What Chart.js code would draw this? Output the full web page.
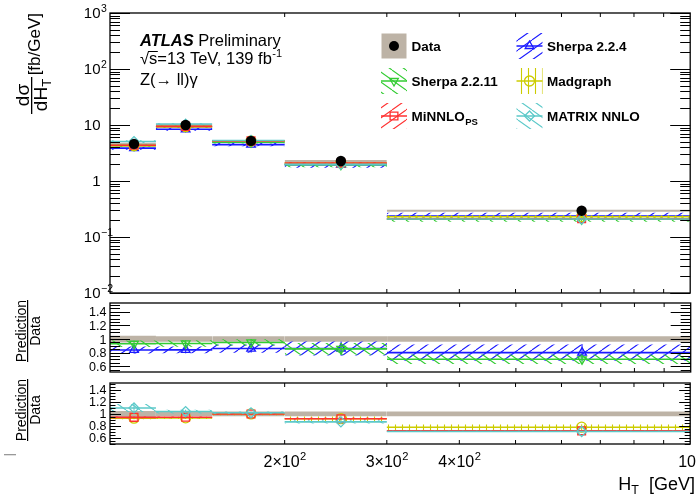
<!DOCTYPE html>
<html>
<head>
<meta charset="utf-8">
<script src="https://cdn.jsdelivr.net/npm/chart.js@4.4.1/dist/chart.umd.min.js"></script>
<style>
  html, body { margin: 0; padding: 0; background: #fff; }
  #wrap { position: relative; width: 697px; height: 495px; overflow: hidden; }
  #wrap canvas { position: absolute; left: 0; top: 0; }
</style>
</head>
<body>
<div id="wrap">
  <canvas id="main" width="697" height="495"></canvas>
  <canvas id="ratio1" width="697" height="495"></canvas>
  <canvas id="ratio2" width="697" height="495"></canvas>
</div>
<script>
// H_T binning [GeV]
const binLow  = [100, 120, 150, 200, 300];
const binHigh = [120, 150, 200, 300, 1000];
const binMid  = [110, 135, 175, 250, 650];

// measured dsigma/dH_T [fb/GeV] and its relative uncertainty
const dataXsec = [4.6, 10.0, 5.2, 2.28, 0.295];
const dataUnc  = [0.05, 0.04, 0.04, 0.04, 0.04];

// predictions [fb/GeV] with relative uncertainties
const sherpa224     = [3.86, 8.40, 4.47, 1.96, 0.236];
const sherpa224Unc  = [0.06, 0.06, 0.07, 0.12, 0.15];
const sherpa2211    = [4.28, 9.35, 4.94, 1.95, 0.207];
const sherpa2211Unc = [0.05, 0.05, 0.05, 0.10, 0.10];
const madgraph      = [4.28, 9.35, 5.20, 2.10, 0.230];
const madgraphUnc   = [0.02, 0.02, 0.02, 0.04, 0.06];
const minnlo        = [4.34, 9.44, 5.20, 2.10, 0.212];
const minnloUnc     = [0.015, 0.015, 0.015, 0.02, 0.02];
const matrixNNLO    = [5.06, 10.4, 5.30, 1.98, 0.209];
const matrixUnc     = [0.06, 0.03, 0.02, 0.03, 0.015];

// tick labels
const yMainTickVals = [1000, 100, 10, 1, 0.1, 0.01];
const yMainTickBase = ['10', '10', '10', '1', '10', '10'];
const yMainTickExp  = ['3', '2', '', '', '\u22121', '\u22122'];
const ratioTickVals = [1.4, 1.2, 1, 0.8, 0.6];
const ratioTickText = ['1.4', '1.2', '1', '0.8', '0.6'];
const xTickVals = [200, 300, 400, 1000];
const xTickBase = ['2\u00d710', '3\u00d710', '4\u00d710', '10'];
const xTickExp  = ['2', '2', '2', '3'];

const FONT = "'Liberation Sans', Arial, Helvetica, sans-serif";
const W = 697, H = 495;
const dataBand = '#bdb3a6';

const series = {
  s224:   { name: 'Sherpa 2.2.4',  vals: sherpa224,  unc: sherpa224Unc,  color: '#1a1aff', hatch: 'fwd',  marker: 'triangle', rot: 0 },
  s2211:  { name: 'Sherpa 2.2.11', vals: sherpa2211, unc: sherpa2211Unc, color: '#33cc33', hatch: 'back', marker: 'triangle', rot: 180 },
  mg:     { name: 'Madgraph',      vals: madgraph,   unc: madgraphUnc,   color: '#cccc00', hatch: 'vert', marker: 'circle',   rot: 0 },
  minnlo: { name: 'MiNNLO',        vals: minnlo,     unc: minnloUnc,     color: '#ff3030', hatch: 'fwd',  marker: 'rect',     rot: 0 },
  matrix: { name: 'MATRIX NNLO',   vals: matrixNNLO, unc: matrixUnc,     color: '#5cc9c9', hatch: 'back', marker: 'rectRot',  rot: 0 }
};

function hatchPattern(ctx, color, kind) {
  const c = document.createElement('canvas');
  const w = kind === 'vert' ? 7 : 14, h = kind === 'vert' ? 7 : 10;
  c.width = w; c.height = h;
  const g = c.getContext('2d');
  g.strokeStyle = color;
  g.lineWidth = 1.1;
  g.beginPath();
  if (kind === 'vert') {
    g.moveTo(3.5, 0); g.lineTo(3.5, h);
  } else {
    for (const o of [-w, 0, w]) {
      if (kind === 'fwd') { g.moveTo(o, h); g.lineTo(o + w, 0); }
      else { g.moveTo(o, 0); g.lineTo(o + w, h); }
    }
  }
  g.stroke();
  return ctx.createPattern(c, 'repeat');
}

const none = 'rgba(0,0,0,0)';

function pushBand(sets, vals, unc, ref, fill) {
  vals.forEach((val, i) => {
    const v = ref ? val / ref[i] : val;
    const up = v * (1 + unc[i]), dn = v * (1 - unc[i]);
    sets.push({ data: [{ x: binLow[i], y: up }, { x: binHigh[i], y: up }],
      fill: '+1', backgroundColor: fill, borderColor: none, borderWidth: 0, pointRadius: 0 });
    sets.push({ data: [{ x: binLow[i], y: dn }, { x: binHigh[i], y: dn }],
      fill: false, borderColor: none, borderWidth: 0, pointRadius: 0 });
  });
}

function pushCurve(sets, s, ref) {
  s.vals.forEach((val, i) => {
    const v = ref ? val / ref[i] : val;
    // central value across the bin
    sets.push({ data: [{ x: binLow[i], y: v }, { x: binHigh[i], y: v }],
      fill: false, borderColor: s.color, borderWidth: 1.6, pointRadius: 0 });
    // vertical error bar at the bin centre
    sets.push({ data: [{ x: binMid[i], y: v * (1 - s.unc[i]) }, { x: binMid[i], y: v * (1 + s.unc[i]) }],
      fill: false, borderColor: s.color, borderWidth: 1, pointRadius: 0 });
  });
  sets.push({ data: s.vals.map((val, i) => ({ x: binMid[i], y: ref ? val / ref[i] : val })),
    showLine: false, pointStyle: s.marker, pointRotation: s.rot,
    pointRadius: s.marker === 'rect' ? 5.5 : 5, pointBorderColor: s.color,
    pointBackgroundColor: none, pointBorderWidth: 1.3 });
}

function buildSets(ctx, keys, ratio) {
  const sets = [];
  const ref = ratio ? dataXsec : null;
  pushBand(sets, dataXsec, dataUnc, ref, dataBand);
  keys.forEach(k => {
    const s = series[k];
    pushBand(sets, s.vals, s.unc, ref, hatchPattern(ctx, s.color, s.hatch));
    pushCurve(sets, s, ref);
  });
  if (!ratio) {
    sets.push({ data: dataXsec.map((v, i) => ({ x: binMid[i], y: v })),
      showLine: false, pointStyle: 'circle', pointRadius: 5.2,
      pointBackgroundColor: '#000', pointBorderColor: '#000', pointBorderWidth: 0 });
  }
  // first pushed is drawn first
  sets.forEach((d, i) => { d.order = sets.length - i; d.tension = 0; });
  return sets;
}

function drawFrame(chart, yTicks) {
  const { ctx, chartArea: a, scales } = chart;
  ctx.save();
  ctx.strokeStyle = '#000';
  ctx.lineWidth = 1;
  ctx.beginPath();
  for (let v = 200; v < 1000; v += 100) {
    const px = scales.x.getPixelForValue(v);
    ctx.moveTo(px, a.bottom); ctx.lineTo(px, a.bottom - 4);
    ctx.moveTo(px, a.top); ctx.lineTo(px, a.top + 4);
  }
  yTicks.forEach(t => {
    const py = Math.round(scales.y.getPixelForValue(t.v)) + 0.5;
    ctx.moveTo(a.left, py); ctx.lineTo(a.left + t.len, py);
    ctx.moveTo(a.right, py); ctx.lineTo(a.right - t.len, py);
  });
  ctx.stroke();
  ctx.lineWidth = 1.3;
  ctx.strokeRect(a.left, a.top, a.right - a.left, a.bottom - a.top);
  ctx.restore();
}

function logTicks() {
  const t = [];
  for (let e = -2; e <= 3; e++) {
    t.push({ v: Math.pow(10, e), len: 20 });
    if (e < 3) for (let m = 2; m <= 9; m++) t.push({ v: m * Math.pow(10, e), len: 10 });
  }
  return t;
}

function ratioTicks(lo, hi, major) {
  const t = [];
  for (let k = 10; k <= 31; k++) {
    const v = k * 0.05;
    if (v < lo || v > hi) continue;
    t.push({ v, len: k % 4 === 0 ? major : major / 2 });
  }
  return t;
}

// text with a raised exponent; align 'base' puts the base's right edge at x
function supText(ctx, x, base, baseText, exp, size, align) {
  ctx.font = size + 'px ' + FONT;
  const wb = ctx.measureText(baseText).width;
  ctx.font = (size * 0.7) + 'px ' + FONT;
  const we = exp ? ctx.measureText(exp).width : 0;
  let x0 = x;
  if (align === 'base') x0 = x - wb;
  else if (align === 'center') x0 = x - (wb + we) / 2;
  else if (align === 'right') x0 = x - wb - we;
  ctx.textAlign = 'left';
  ctx.font = size + 'px ' + FONT;
  ctx.fillText(baseText, x0, base);
  if (exp) {
    ctx.font = (size * 0.7) + 'px ' + FONT;
    ctx.fillText(exp, x0 + wb + 0.5, base - size * 0.45);
  }
}

function ratioTitle(ctx, cy) {
  ctx.save();
  ctx.rotate(-Math.PI / 2);
  ctx.fillStyle = '#000';
  ctx.font = '14px ' + FONT;
  ctx.textAlign = 'center';
  ctx.fillText('Prediction', -cy, 25.5);
  ctx.fillText('Data', -cy, 39.5);
  ctx.fillRect(-cy - 31, 27, 62, 1.2);
  ctx.restore();
}

function ratioLabels(chart) {
  const { ctx, scales } = chart;
  ctx.save();
  ctx.fillStyle = '#000';
  ctx.font = '12.5px ' + FONT;
  ctx.textAlign = 'right';
  ratioTickVals.forEach((v, i) => {
    ctx.fillText(ratioTickText[i], 106.5, scales.y.getPixelForValue(v) + 4.5);
  });
  ctx.restore();
}

function drawMarker(ctx, kind, rot, x, y, r) {
  ctx.beginPath();
  if (kind === 'circle') {
    ctx.arc(x, y, r, 0, Math.PI * 2);
  } else if (kind === 'triangle') {
    const s = rot ? -1 : 1;
    ctx.moveTo(x, y - s * r);
    ctx.lineTo(x - r * 0.866, y + s * r / 2);
    ctx.lineTo(x + r * 0.866, y + s * r / 2);
    ctx.closePath();
  } else if (kind === 'rect') {
    const h = r * 0.707;
    ctx.rect(x - h, y - h, 2 * h, 2 * h);
  } else {
    ctx.moveTo(x, y - r); ctx.lineTo(x + r, y); ctx.lineTo(x, y + r); ctx.lineTo(x - r, y);
    ctx.closePath();
  }
}

function drawLegend(ctx) {
  const rowY = [46, 81, 116];
  const symX = [394, 529.5], txtX = [411.5, 547];
  const entries = ['data', 's224', 's2211', 'mg', 'minnlo', 'matrix'];
  ctx.save();
  entries.forEach((k, i) => {
    const r = Math.floor(i / 2), c = i % 2;
    const cx = symX[c], cy = rowY[r];
    if (k === 'data') {
      ctx.fillStyle = dataBand;
      ctx.fillRect(cx - 12.5, cy - 12.5, 25, 25);
      ctx.fillStyle = '#000';
      drawMarker(ctx, 'circle', 0, cx, cy, 5);
      ctx.fill();
    } else {
      const s = series[k];
      ctx.fillStyle = hatchPattern(ctx, s.color, s.hatch);
      ctx.fillRect(cx - 13, cy - 13, 26, 26);
      ctx.strokeStyle = s.color;
      ctx.lineWidth = 1.5;
      ctx.beginPath(); ctx.moveTo(cx - 13, cy); ctx.lineTo(cx + 13, cy); ctx.stroke();
      ctx.lineWidth = 1.3;
      drawMarker(ctx, s.marker, s.rot, cx, cy, s.marker === 'rect' ? 5.5 : 5);
      ctx.stroke();
    }
    ctx.fillStyle = '#000';
    ctx.textAlign = 'left';
    ctx.font = 'bold 13.5px ' + FONT;
    const label = k === 'data' ? 'Data' : series[k].name;
    ctx.fillText(label, txtX[c], cy + 4.8);
    if (k === 'minnlo') {
      const w = ctx.measureText(label).width;
      ctx.font = 'bold 9.5px ' + FONT;
      ctx.fillText('PS', txtX[c] + w + 0.5, cy + 9);
    }
  });
  ctx.restore();
}

function drawMainText(ctx) {
  ctx.save();
  ctx.fillStyle = '#000';
  ctx.textAlign = 'left';
  ctx.font = 'italic bold 16.5px ' + FONT;
  ctx.fillText('ATLAS', 140, 46);
  const wa = ctx.measureText('ATLAS').width;
  ctx.font = '16.5px ' + FONT;
  ctx.fillText('Preliminary', 140 + wa + 4.5, 46);

  ctx.fillText('\u221a', 140, 64);
  const wr = ctx.measureText('\u221a').width;
  const ws = ctx.measureText('s').width;
  ctx.fillText('s=13 TeV, 139 fb', 140 + wr, 64);
  ctx.fillRect(140 + wr - 1, 51, ws + 1.5, 1);
  const wl = ctx.measureText('s=13 TeV, 139 fb').width;
  ctx.font = '11px ' + FONT;
  ctx.fillText('-1', 140 + wr + wl + 0.5, 57);

  ctx.font = '16.5px ' + FONT;
  ctx.fillText('Z(\u2192 ll)\u03b3', 140, 85);

  // y-axis title: fraction d(sigma)/dH_T followed by the unit
  ctx.rotate(-Math.PI / 2);
  ctx.font = '17px ' + FONT;
  ctx.textAlign = 'right';
  ctx.fillText('[fb/GeV]', -13, 40);
  ctx.font = '19px ' + FONT;
  ctx.textAlign = 'center';
  ctx.fillText('d\u03c3', -95, 29);
  ctx.textAlign = 'left';
  const wd = ctx.measureText('dH').width;
  ctx.fillText('dH', -96 - wd / 2 - 3, 47);
  ctx.font = '13px ' + FONT;
  ctx.fillText('T', -96 + wd / 2 - 3, 51);
  ctx.fillRect(-114, 31, 37, 1.3);
  ctx.restore();
}

function mainLabels(chart) {
  const { ctx, scales } = chart;
  ctx.save();
  ctx.fillStyle = '#000';
  yMainTickVals.forEach((v, i) => {
    const py = scales.y.getPixelForValue(v);
    supText(ctx, 100.5, py + 5.4, yMainTickBase[i], yMainTickExp[i], 15, 'base');
  });
  ctx.restore();
}

function xAxisText(chart) {
  const { ctx, scales } = chart;
  ctx.save();
  ctx.fillStyle = '#000';
  xTickVals.forEach((v, i) => {
    supText(ctx, scales.x.getPixelForValue(v), 467, xTickBase[i], xTickExp[i], 16, 'center');
  });
  // H_T [GeV]
  ctx.font = '18px ' + FONT;
  const wH = ctx.measureText('H').width;
  const wG = ctx.measureText('  [GeV]').width;
  ctx.font = '12.5px ' + FONT;
  const wT = ctx.measureText('T').width;
  const x0 = 695 - wH - wT - wG;
  ctx.font = '18px ' + FONT;
  ctx.fillText('H', x0, 490);
  ctx.fillText('  [GeV]', x0 + wH + wT, 490);
  ctx.font = '12.5px ' + FONT;
  ctx.fillText('T', x0 + wH, 494);
  // short stray mark at the left margin
  ctx.fillStyle = '#999';
  ctx.fillRect(4, 454, 12, 1.3);
  ctx.restore();
}

function makeChart(id, keys, ratio, yScale, top, bottom, decorate) {
  const canvas = document.getElementById(id);
  return new Chart(canvas, {
    type: 'line',
    data: { datasets: buildSets(canvas.getContext('2d'), keys, ratio) },
    options: {
      responsive: false,
      animation: false,
      devicePixelRatio: 1,
      events: [],
      layout: { padding: { left: 110, right: W - 694, top: top, bottom: H - bottom } },
      scales: {
        x: { type: 'logarithmic', min: 100, max: 1000, display: false },
        y: Object.assign({ display: false }, yScale)
      },
      plugins: { legend: { display: false }, tooltip: { enabled: false } }
    },
    plugins: [{ id: 'deco' + id, afterDraw: decorate }]
  });
}

makeChart('main', ['s224', 's2211', 'mg', 'minnlo', 'matrix'], false,
  { type: 'logarithmic', min: 0.01, max: 1000 }, 13, 293,
  chart => {
    drawFrame(chart, logTicks());
    mainLabels(chart);
    drawMainText(chart.ctx);
    drawLegend(chart.ctx);
  });

makeChart('ratio1', ['s224', 's2211'], true,
  { type: 'linear', min: 0.515, max: 1.53 }, 303, 372,
  chart => {
    drawFrame(chart, ratioTicks(0.515, 1.53, 20));
    ratioLabels(chart);
    ratioTitle(chart.ctx, 331);
  });

makeChart('ratio2', ['mg', 'minnlo', 'matrix'], true,
  { type: 'linear', min: 0.5, max: 1.515 }, 383, 444,
  chart => {
    drawFrame(chart, ratioTicks(0.5, 1.515, 11));
    ratioLabels(chart);
    ratioTitle(chart.ctx, 410);
    xAxisText(chart);
  });
</script>
</body>
</html>
